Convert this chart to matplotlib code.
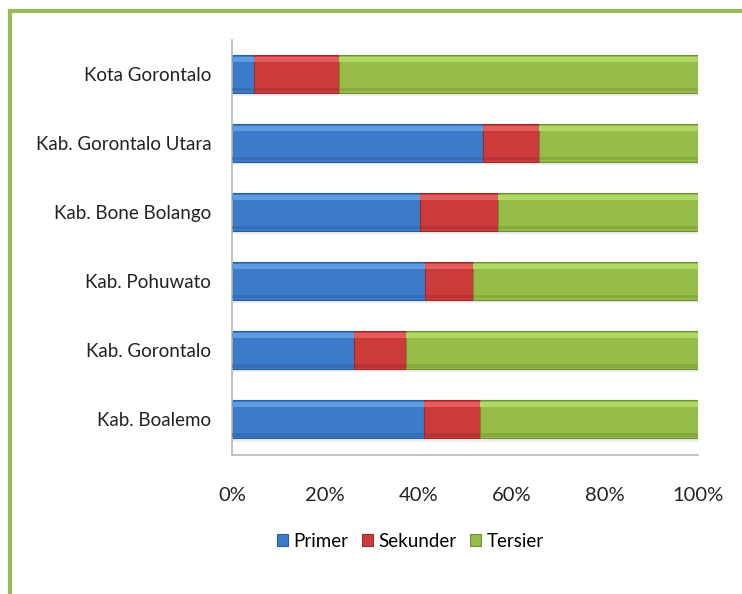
import numpy as np
import matplotlib.pyplot as plt
from matplotlib.lines import Line2D
from matplotlib.patches import Patch

# data (share of each sector, %)
regions = [
    "Kab. Boalemo",
    "Kab. Gorontalo",
    "Kab. Pohuwato",
    "Kab. Bone Bolango",
    "Kab. Gorontalo Utara",
    "Kota Gorontalo",
]
primer = [41.2, 26.2, 41.4, 40.3, 53.9, 4.7]
sekunder = [12.0, 11.1, 10.3, 16.8, 12.0, 18.3]
tersier = [46.8, 62.7, 48.3, 42.9, 34.1, 77.0]
series_names = ["Primer", "Sekunder", "Tersier"]

colors = ["#3b7bc8", "#cc3b3b", "#97bd48"]
lights = ["#5f9be0", "#e25c5c", "#b0d864"]
darks = ["#2a5f9e", "#9c2a2a", "#6f8f32"]

plt.rcParams["font.family"] = ["Lato", "DejaVu Sans"]

fig = plt.figure(figsize=(7.42, 5.94), dpi=100)
ax = fig.add_axes([232 / 742, 1 - 455 / 594, 466 / 742, 415 / 594])

y = np.arange(len(regions))
h = 0.55
left = np.zeros(len(regions))
# soft shadow below the bars
ax.barh(y - 0.05, 100, height=h, left=0, color="#c8c8c8", alpha=0.3, zorder=1)
for vals, c, lc, dc in zip([primer, sekunder, tersier], colors, lights, darks):
    vals = np.array(vals)
    ax.barh(y, vals, height=h, left=left, color=c, edgecolor=dc, linewidth=0.8, zorder=2)
    # highlight strip on top and darker strip at bottom
    ax.barh(y + h * 0.38, vals, height=h * 0.14, left=left, color=lc, linewidth=0, zorder=3)
    ax.barh(y - h * 0.41, vals, height=h * 0.10, left=left, color=dc, alpha=0.4, linewidth=0, zorder=3)
    left += vals

ax.set_xlim(0, 100)
ax.set_ylim(-0.52, 5.49)
ax.set_yticks(y)
ax.set_yticklabels(regions, fontsize=13.5, color="#222222")
ax.set_xticks([0, 20, 40, 60, 80, 100])
ax.set_xticklabels(["0%", "20%", "40%", "60%", "80%", "100%"], fontsize=14.5, color="#222222")
ax.tick_params(axis="x", length=0, pad=23)
ax.tick_params(axis="y", length=0, pad=15)
for s in ["top", "right"]:
    ax.spines[s].set_visible(False)
ax.spines["left"].set_color("#b8b8b8")
ax.spines["bottom"].set_color("#b8b8b8")
ax.spines["left"].set_linewidth(1.2)
ax.spines["bottom"].set_linewidth(1.2)

handles = [Patch(facecolor=c, edgecolor=d, linewidth=0.8) for c, d in zip(colors, darks)]
fig.legend(handles, series_names, loc="center", bbox_to_anchor=(0.553, 0.089), ncol=3,
           frameon=False, fontsize=13.5, handlelength=0.6, handleheight=0.6,
           handletextpad=0.3, columnspacing=0.7)

# green frame (left and top edges visible)
fig.add_artist(Line2D([10 / 742, 10 / 742], [0, 1 - 11 / 594], transform=fig.transFigure,
                      color="#9bbb59", linewidth=3))
fig.add_artist(Line2D([10 / 742, 1], [1 - 11 / 594, 1 - 11 / 594], transform=fig.transFigure,
                      color="#9bbb59", linewidth=3))

fig.savefig("out.png", dpi=100)
